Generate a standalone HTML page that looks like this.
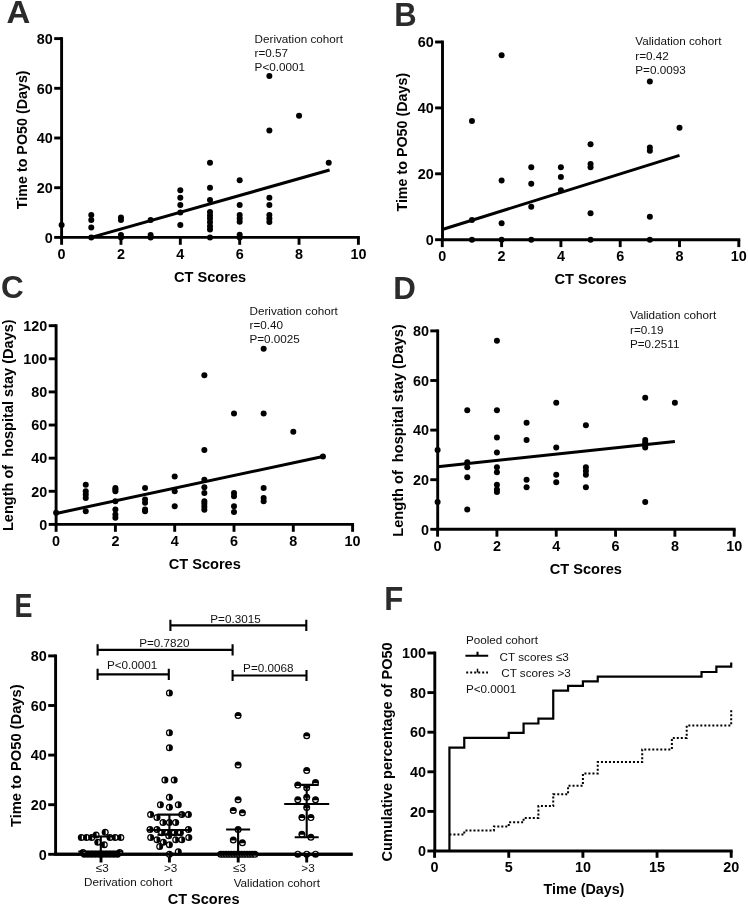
<!DOCTYPE html>
<html><head><meta charset="utf-8"><title>Figure</title>
<style>html,body{margin:0;padding:0;background:#fff;}svg{display:block;filter:grayscale(100%);}svg text{font-family:"Liberation Sans",sans-serif;}</style>
</head><body>
<svg width="748" height="906" viewBox="0 0 748 906">
<rect width="748" height="906" fill="#fff"/>
<text transform="translate(6.38,23.3) scale(1.035,1)" font-weight="bold" font-size="31.83" fill="#2b2b2b">A</text>
<line x1="61.6" y1="37.15" x2="61.6" y2="237.4" stroke="#000" stroke-width="2.9"/>
<line x1="54.2" y1="237.4" x2="61.6" y2="237.4" stroke="#000" stroke-width="2.9"/>
<text transform="translate(52.8,242.65) scale(0.97,1)" font-weight="bold" font-size="14.85" text-anchor="end">0</text>
<line x1="54.2" y1="187.7" x2="61.6" y2="187.7" stroke="#000" stroke-width="2.9"/>
<text transform="translate(52.8,192.95) scale(0.97,1)" font-weight="bold" font-size="14.85" text-anchor="end">20</text>
<line x1="54.2" y1="138" x2="61.6" y2="138" stroke="#000" stroke-width="2.9"/>
<text transform="translate(52.8,143.25) scale(0.97,1)" font-weight="bold" font-size="14.85" text-anchor="end">40</text>
<line x1="54.2" y1="88.3" x2="61.6" y2="88.3" stroke="#000" stroke-width="2.9"/>
<text transform="translate(52.8,93.55) scale(0.97,1)" font-weight="bold" font-size="14.85" text-anchor="end">60</text>
<line x1="54.2" y1="38.6" x2="61.6" y2="38.6" stroke="#000" stroke-width="2.9"/>
<text transform="translate(52.8,43.85) scale(0.97,1)" font-weight="bold" font-size="14.85" text-anchor="end">80</text>
<line x1="60.15" y1="237.4" x2="359.85" y2="237.4" stroke="#000" stroke-width="2.9"/>
<line x1="61.6" y1="237.4" x2="61.6" y2="244.8" stroke="#000" stroke-width="2.9"/>
<text transform="translate(61.6,259) scale(0.97,1)" font-weight="bold" font-size="14.85" text-anchor="middle">0</text>
<line x1="120.96" y1="237.4" x2="120.96" y2="244.8" stroke="#000" stroke-width="2.9"/>
<text transform="translate(120.96,259) scale(0.97,1)" font-weight="bold" font-size="14.85" text-anchor="middle">2</text>
<line x1="180.32" y1="237.4" x2="180.32" y2="244.8" stroke="#000" stroke-width="2.9"/>
<text transform="translate(180.32,259) scale(0.97,1)" font-weight="bold" font-size="14.85" text-anchor="middle">4</text>
<line x1="239.68" y1="237.4" x2="239.68" y2="244.8" stroke="#000" stroke-width="2.9"/>
<text transform="translate(239.68,259) scale(0.97,1)" font-weight="bold" font-size="14.85" text-anchor="middle">6</text>
<line x1="299.04" y1="237.4" x2="299.04" y2="244.8" stroke="#000" stroke-width="2.9"/>
<text transform="translate(299.04,259) scale(0.97,1)" font-weight="bold" font-size="14.85" text-anchor="middle">8</text>
<line x1="358.4" y1="237.4" x2="358.4" y2="244.8" stroke="#000" stroke-width="2.9"/>
<text transform="translate(358.4,259) scale(0.97,1)" font-weight="bold" font-size="14.85" text-anchor="middle">10</text>
<text transform="translate(27.2,139.8) rotate(-90)" font-weight="bold" font-size="14.3" text-anchor="middle">Time to PO50 (Days)</text>
<text x="210.1" y="281.6" font-weight="bold" font-size="14.6" text-anchor="middle">CT Scores</text>
<text x="254.6" y="42.5"  font-size="11.7" fill="#111">Derivation cohort</text>
<text x="254.6" y="56.8"  font-size="11.7" fill="#111">r=0.57</text>
<text x="254.6" y="71.1"  font-size="11.7" fill="#111">P&lt;0.0001</text>
<circle cx="61.6" cy="224.97" r="3.0"/>
<circle cx="91.28" cy="215.03" r="3.0"/>
<circle cx="91.28" cy="220" r="3.0"/>
<circle cx="91.28" cy="227.46" r="3.0"/>
<circle cx="91.28" cy="237.4" r="3.0"/>
<circle cx="120.96" cy="217.52" r="3.0"/>
<circle cx="120.96" cy="220" r="3.0"/>
<circle cx="120.96" cy="234.91" r="3.0"/>
<circle cx="120.96" cy="237.4" r="3.0"/>
<circle cx="150.64" cy="220" r="3.0"/>
<circle cx="150.64" cy="234.91" r="3.0"/>
<circle cx="150.64" cy="237.4" r="3.0"/>
<circle cx="180.32" cy="190.19" r="3.0"/>
<circle cx="180.32" cy="197.64" r="3.0"/>
<circle cx="180.32" cy="205.09" r="3.0"/>
<circle cx="180.32" cy="212.55" r="3.0"/>
<circle cx="180.32" cy="224.97" r="3.0"/>
<circle cx="210" cy="162.85" r="3.0"/>
<circle cx="210" cy="187.7" r="3.0"/>
<circle cx="210" cy="200.12" r="3.0"/>
<circle cx="210" cy="212.05" r="3.0"/>
<circle cx="210" cy="215.53" r="3.0"/>
<circle cx="210" cy="218.51" r="3.0"/>
<circle cx="210" cy="222.24" r="3.0"/>
<circle cx="210" cy="226.22" r="3.0"/>
<circle cx="210" cy="229.45" r="3.0"/>
<circle cx="210" cy="237.4" r="3.0"/>
<circle cx="239.68" cy="180.25" r="3.0"/>
<circle cx="239.68" cy="205.09" r="3.0"/>
<circle cx="239.68" cy="215.03" r="3.0"/>
<circle cx="239.68" cy="218.51" r="3.0"/>
<circle cx="239.68" cy="221.74" r="3.0"/>
<circle cx="239.68" cy="234.67" r="3.0"/>
<circle cx="239.68" cy="237.4" r="3.0"/>
<circle cx="269.36" cy="75.88" r="3.0"/>
<circle cx="269.36" cy="130.55" r="3.0"/>
<circle cx="269.36" cy="197.64" r="3.0"/>
<circle cx="269.36" cy="205.09" r="3.0"/>
<circle cx="269.36" cy="215.03" r="3.0"/>
<circle cx="269.36" cy="218.51" r="3.0"/>
<circle cx="269.36" cy="221.99" r="3.0"/>
<circle cx="299.04" cy="115.64" r="3.0"/>
<circle cx="328.72" cy="162.85" r="3.0"/>
<line x1="91.28" y1="237.4" x2="329.61" y2="170.06" stroke="#000" stroke-width="3.0"/>
<text transform="translate(394.33,26.4) scale(0.943,1)" font-weight="bold" font-size="32.85" fill="#2b2b2b">B</text>
<line x1="442.5" y1="40.55" x2="442.5" y2="239.7" stroke="#000" stroke-width="2.9"/>
<line x1="435.1" y1="239.7" x2="442.5" y2="239.7" stroke="#000" stroke-width="2.9"/>
<text transform="translate(433.7,244.95) scale(0.97,1)" font-weight="bold" font-size="14.85" text-anchor="end">0</text>
<line x1="435.1" y1="173.8" x2="442.5" y2="173.8" stroke="#000" stroke-width="2.9"/>
<text transform="translate(433.7,179.05) scale(0.97,1)" font-weight="bold" font-size="14.85" text-anchor="end">20</text>
<line x1="435.1" y1="107.9" x2="442.5" y2="107.9" stroke="#000" stroke-width="2.9"/>
<text transform="translate(433.7,113.15) scale(0.97,1)" font-weight="bold" font-size="14.85" text-anchor="end">40</text>
<line x1="435.1" y1="42" x2="442.5" y2="42" stroke="#000" stroke-width="2.9"/>
<text transform="translate(433.7,47.25) scale(0.97,1)" font-weight="bold" font-size="14.85" text-anchor="end">60</text>
<line x1="441.05" y1="239.7" x2="740.25" y2="239.7" stroke="#000" stroke-width="2.9"/>
<line x1="442.3" y1="239.7" x2="442.3" y2="247.1" stroke="#000" stroke-width="2.9"/>
<text transform="translate(442.3,261.2) scale(0.97,1)" font-weight="bold" font-size="14.85" text-anchor="middle">0</text>
<line x1="501.6" y1="239.7" x2="501.6" y2="247.1" stroke="#000" stroke-width="2.9"/>
<text transform="translate(501.6,261.2) scale(0.97,1)" font-weight="bold" font-size="14.85" text-anchor="middle">2</text>
<line x1="560.9" y1="239.7" x2="560.9" y2="247.1" stroke="#000" stroke-width="2.9"/>
<text transform="translate(560.9,261.2) scale(0.97,1)" font-weight="bold" font-size="14.85" text-anchor="middle">4</text>
<line x1="620.2" y1="239.7" x2="620.2" y2="247.1" stroke="#000" stroke-width="2.9"/>
<text transform="translate(620.2,261.2) scale(0.97,1)" font-weight="bold" font-size="14.85" text-anchor="middle">6</text>
<line x1="679.5" y1="239.7" x2="679.5" y2="247.1" stroke="#000" stroke-width="2.9"/>
<text transform="translate(679.5,261.2) scale(0.97,1)" font-weight="bold" font-size="14.85" text-anchor="middle">8</text>
<line x1="738.8" y1="239.7" x2="738.8" y2="247.1" stroke="#000" stroke-width="2.9"/>
<text transform="translate(738.8,261.2) scale(0.97,1)" font-weight="bold" font-size="14.85" text-anchor="middle">10</text>
<text transform="translate(407.2,142.2) rotate(-90)" font-weight="bold" font-size="14.3" text-anchor="middle">Time to PO50 (Days)</text>
<text x="590.6" y="283.5" font-weight="bold" font-size="14.6" text-anchor="middle">CT Scores</text>
<text x="635.3" y="45.4"  font-size="11.7" fill="#111">Validation cohort</text>
<text x="635.3" y="59.6"  font-size="11.7" fill="#111">r=0.42</text>
<text x="635.3" y="73.8"  font-size="11.7" fill="#111">P=0.0093</text>
<circle cx="471.95" cy="121.08" r="3.0"/>
<circle cx="471.95" cy="219.93" r="3.0"/>
<circle cx="471.95" cy="239.7" r="3.0"/>
<circle cx="501.6" cy="55.18" r="3.0"/>
<circle cx="501.6" cy="180.39" r="3.0"/>
<circle cx="501.6" cy="223.22" r="3.0"/>
<circle cx="501.6" cy="239.7" r="3.0"/>
<circle cx="531.25" cy="167.21" r="3.0"/>
<circle cx="531.25" cy="183.69" r="3.0"/>
<circle cx="531.25" cy="206.75" r="3.0"/>
<circle cx="531.25" cy="239.7" r="3.0"/>
<circle cx="560.9" cy="167.21" r="3.0"/>
<circle cx="560.9" cy="177.09" r="3.0"/>
<circle cx="560.9" cy="190.27" r="3.0"/>
<circle cx="590.55" cy="144.14" r="3.0"/>
<circle cx="590.55" cy="163.91" r="3.0"/>
<circle cx="590.55" cy="167.21" r="3.0"/>
<circle cx="590.55" cy="213.34" r="3.0"/>
<circle cx="590.55" cy="239.7" r="3.0"/>
<circle cx="649.85" cy="81.54" r="3.0"/>
<circle cx="649.85" cy="147.44" r="3.0"/>
<circle cx="649.85" cy="150.73" r="3.0"/>
<circle cx="649.85" cy="216.63" r="3.0"/>
<circle cx="649.85" cy="239.7" r="3.0"/>
<circle cx="679.5" cy="127.67" r="3.0"/>
<line x1="442.3" y1="229.49" x2="679.5" y2="155.35" stroke="#000" stroke-width="3.0"/>
<text transform="translate(1.01,298.19) scale(0.991,1)" font-weight="bold" font-size="31.78" fill="#2b2b2b">C</text>
<line x1="56.1" y1="324.23" x2="56.1" y2="524.4" stroke="#000" stroke-width="2.9"/>
<line x1="48.7" y1="524.4" x2="56.1" y2="524.4" stroke="#000" stroke-width="2.9"/>
<text transform="translate(47.3,529.65) scale(0.97,1)" font-weight="bold" font-size="14.85" text-anchor="end">0</text>
<line x1="48.7" y1="491.28" x2="56.1" y2="491.28" stroke="#000" stroke-width="2.9"/>
<text transform="translate(47.3,496.53) scale(0.97,1)" font-weight="bold" font-size="14.85" text-anchor="end">20</text>
<line x1="48.7" y1="458.16" x2="56.1" y2="458.16" stroke="#000" stroke-width="2.9"/>
<text transform="translate(47.3,463.41) scale(0.97,1)" font-weight="bold" font-size="14.85" text-anchor="end">40</text>
<line x1="48.7" y1="425.04" x2="56.1" y2="425.04" stroke="#000" stroke-width="2.9"/>
<text transform="translate(47.3,430.29) scale(0.97,1)" font-weight="bold" font-size="14.85" text-anchor="end">60</text>
<line x1="48.7" y1="391.92" x2="56.1" y2="391.92" stroke="#000" stroke-width="2.9"/>
<text transform="translate(47.3,397.17) scale(0.97,1)" font-weight="bold" font-size="14.85" text-anchor="end">80</text>
<line x1="48.7" y1="358.8" x2="56.1" y2="358.8" stroke="#000" stroke-width="2.9"/>
<text transform="translate(47.3,364.05) scale(0.97,1)" font-weight="bold" font-size="14.85" text-anchor="end">100</text>
<line x1="48.7" y1="325.68" x2="56.1" y2="325.68" stroke="#000" stroke-width="2.9"/>
<text transform="translate(47.3,330.93) scale(0.97,1)" font-weight="bold" font-size="14.85" text-anchor="end">120</text>
<line x1="54.65" y1="524.4" x2="354.05" y2="524.4" stroke="#000" stroke-width="2.9"/>
<line x1="56.1" y1="524.4" x2="56.1" y2="531.8" stroke="#000" stroke-width="2.9"/>
<text transform="translate(56.1,546.3) scale(0.97,1)" font-weight="bold" font-size="14.85" text-anchor="middle">0</text>
<line x1="115.4" y1="524.4" x2="115.4" y2="531.8" stroke="#000" stroke-width="2.9"/>
<text transform="translate(115.4,546.3) scale(0.97,1)" font-weight="bold" font-size="14.85" text-anchor="middle">2</text>
<line x1="174.7" y1="524.4" x2="174.7" y2="531.8" stroke="#000" stroke-width="2.9"/>
<text transform="translate(174.7,546.3) scale(0.97,1)" font-weight="bold" font-size="14.85" text-anchor="middle">4</text>
<line x1="234" y1="524.4" x2="234" y2="531.8" stroke="#000" stroke-width="2.9"/>
<text transform="translate(234,546.3) scale(0.97,1)" font-weight="bold" font-size="14.85" text-anchor="middle">6</text>
<line x1="293.3" y1="524.4" x2="293.3" y2="531.8" stroke="#000" stroke-width="2.9"/>
<text transform="translate(293.3,546.3) scale(0.97,1)" font-weight="bold" font-size="14.85" text-anchor="middle">8</text>
<line x1="352.6" y1="524.4" x2="352.6" y2="531.8" stroke="#000" stroke-width="2.9"/>
<text transform="translate(352.6,546.3) scale(0.97,1)" font-weight="bold" font-size="14.85" text-anchor="middle">10</text>
<text transform="translate(12.8,425.2) rotate(-90)" font-weight="bold" font-size="14.55" text-anchor="middle">Length of&#160; hospital stay (Days)</text>
<text x="204.75" y="568.5" font-weight="bold" font-size="14.6" text-anchor="middle">CT Scores</text>
<text x="249.5" y="314.8"  font-size="11.7" fill="#111">Derivation cohort</text>
<text x="249.5" y="328.9"  font-size="11.7" fill="#111">r=0.40</text>
<text x="249.5" y="343"  font-size="11.7" fill="#111">P=0.0025</text>
<circle cx="56.1" cy="512.81" r="3.0"/>
<circle cx="85.75" cy="484.66" r="3.0"/>
<circle cx="85.75" cy="491.28" r="3.0"/>
<circle cx="85.75" cy="494.59" r="3.0"/>
<circle cx="85.75" cy="497.9" r="3.0"/>
<circle cx="85.75" cy="511.15" r="3.0"/>
<circle cx="115.4" cy="487.97" r="3.0"/>
<circle cx="115.4" cy="489.62" r="3.0"/>
<circle cx="115.4" cy="491.28" r="3.0"/>
<circle cx="115.4" cy="501.22" r="3.0"/>
<circle cx="115.4" cy="509.5" r="3.0"/>
<circle cx="115.4" cy="514.46" r="3.0"/>
<circle cx="115.4" cy="517.78" r="3.0"/>
<circle cx="145.05" cy="487.97" r="3.0"/>
<circle cx="145.05" cy="499.56" r="3.0"/>
<circle cx="145.05" cy="502.87" r="3.0"/>
<circle cx="145.05" cy="509.5" r="3.0"/>
<circle cx="145.05" cy="511.15" r="3.0"/>
<circle cx="174.7" cy="476.38" r="3.0"/>
<circle cx="174.7" cy="491.28" r="3.0"/>
<circle cx="174.7" cy="506.18" r="3.0"/>
<circle cx="204.35" cy="375.36" r="3.0"/>
<circle cx="204.35" cy="449.88" r="3.0"/>
<circle cx="204.35" cy="479.69" r="3.0"/>
<circle cx="204.35" cy="487.14" r="3.0"/>
<circle cx="204.35" cy="492.94" r="3.0"/>
<circle cx="204.35" cy="501.22" r="3.0"/>
<circle cx="204.35" cy="503.87" r="3.0"/>
<circle cx="204.35" cy="506.68" r="3.0"/>
<circle cx="204.35" cy="509.83" r="3.0"/>
<circle cx="234" cy="413.45" r="3.0"/>
<circle cx="234" cy="492.94" r="3.0"/>
<circle cx="234" cy="496.25" r="3.0"/>
<circle cx="234" cy="506.18" r="3.0"/>
<circle cx="234" cy="511.98" r="3.0"/>
<circle cx="263.65" cy="348.86" r="3.0"/>
<circle cx="263.65" cy="413.45" r="3.0"/>
<circle cx="263.65" cy="487.97" r="3.0"/>
<circle cx="263.65" cy="497.9" r="3.0"/>
<circle cx="263.65" cy="501.22" r="3.0"/>
<circle cx="293.3" cy="431.66" r="3.0"/>
<circle cx="322.95" cy="456.5" r="3.0"/>
<line x1="56.1" y1="513.47" x2="322.95" y2="456.5" stroke="#000" stroke-width="3.0"/>
<text transform="translate(393.21,298.5) scale(0.993,1)" font-weight="bold" font-size="31.54" fill="#2b2b2b">D</text>
<line x1="437.7" y1="329.45" x2="437.7" y2="529.3" stroke="#000" stroke-width="2.9"/>
<line x1="430.3" y1="529.3" x2="437.7" y2="529.3" stroke="#000" stroke-width="2.9"/>
<text transform="translate(428.9,534.55) scale(0.97,1)" font-weight="bold" font-size="14.85" text-anchor="end">0</text>
<line x1="430.3" y1="479.7" x2="437.7" y2="479.7" stroke="#000" stroke-width="2.9"/>
<text transform="translate(428.9,484.95) scale(0.97,1)" font-weight="bold" font-size="14.85" text-anchor="end">20</text>
<line x1="430.3" y1="430.1" x2="437.7" y2="430.1" stroke="#000" stroke-width="2.9"/>
<text transform="translate(428.9,435.35) scale(0.97,1)" font-weight="bold" font-size="14.85" text-anchor="end">40</text>
<line x1="430.3" y1="380.5" x2="437.7" y2="380.5" stroke="#000" stroke-width="2.9"/>
<text transform="translate(428.9,385.75) scale(0.97,1)" font-weight="bold" font-size="14.85" text-anchor="end">60</text>
<line x1="430.3" y1="330.9" x2="437.7" y2="330.9" stroke="#000" stroke-width="2.9"/>
<text transform="translate(428.9,336.15) scale(0.97,1)" font-weight="bold" font-size="14.85" text-anchor="end">80</text>
<line x1="436.25" y1="529.3" x2="735.65" y2="529.3" stroke="#000" stroke-width="2.9"/>
<line x1="437.6" y1="529.3" x2="437.6" y2="536.7" stroke="#000" stroke-width="2.9"/>
<text transform="translate(437.6,550.8) scale(0.97,1)" font-weight="bold" font-size="14.85" text-anchor="middle">0</text>
<line x1="496.92" y1="529.3" x2="496.92" y2="536.7" stroke="#000" stroke-width="2.9"/>
<text transform="translate(496.92,550.8) scale(0.97,1)" font-weight="bold" font-size="14.85" text-anchor="middle">2</text>
<line x1="556.24" y1="529.3" x2="556.24" y2="536.7" stroke="#000" stroke-width="2.9"/>
<text transform="translate(556.24,550.8) scale(0.97,1)" font-weight="bold" font-size="14.85" text-anchor="middle">4</text>
<line x1="615.56" y1="529.3" x2="615.56" y2="536.7" stroke="#000" stroke-width="2.9"/>
<text transform="translate(615.56,550.8) scale(0.97,1)" font-weight="bold" font-size="14.85" text-anchor="middle">6</text>
<line x1="674.88" y1="529.3" x2="674.88" y2="536.7" stroke="#000" stroke-width="2.9"/>
<text transform="translate(674.88,550.8) scale(0.97,1)" font-weight="bold" font-size="14.85" text-anchor="middle">8</text>
<line x1="734.2" y1="529.3" x2="734.2" y2="536.7" stroke="#000" stroke-width="2.9"/>
<text transform="translate(734.2,550.8) scale(0.97,1)" font-weight="bold" font-size="14.85" text-anchor="middle">10</text>
<text transform="translate(402.8,430.5) rotate(-90)" font-weight="bold" font-size="14.6" text-anchor="middle">Length of&#160; hospital stay (Days)</text>
<text x="585.8" y="573.6" font-weight="bold" font-size="14.6" text-anchor="middle">CT Scores</text>
<text x="630" y="319.4"  font-size="11.7" fill="#111">Validation cohort</text>
<text x="630" y="333.7"  font-size="11.7" fill="#111">r=0.19</text>
<text x="630" y="348"  font-size="11.7" fill="#111">P=0.2511</text>
<circle cx="437.6" cy="449.94" r="3.0"/>
<circle cx="437.6" cy="502.02" r="3.0"/>
<circle cx="467.26" cy="410.26" r="3.0"/>
<circle cx="467.26" cy="462.34" r="3.0"/>
<circle cx="467.26" cy="467.3" r="3.0"/>
<circle cx="467.26" cy="477.22" r="3.0"/>
<circle cx="467.26" cy="509.46" r="3.0"/>
<circle cx="496.92" cy="340.82" r="3.0"/>
<circle cx="496.92" cy="410.26" r="3.0"/>
<circle cx="496.92" cy="437.54" r="3.0"/>
<circle cx="496.92" cy="452.42" r="3.0"/>
<circle cx="496.92" cy="467.3" r="3.0"/>
<circle cx="496.92" cy="472.26" r="3.0"/>
<circle cx="496.92" cy="484.66" r="3.0"/>
<circle cx="496.92" cy="489.62" r="3.0"/>
<circle cx="496.92" cy="492.1" r="3.0"/>
<circle cx="526.58" cy="422.66" r="3.0"/>
<circle cx="526.58" cy="440.02" r="3.0"/>
<circle cx="526.58" cy="479.7" r="3.0"/>
<circle cx="526.58" cy="487.14" r="3.0"/>
<circle cx="556.24" cy="402.82" r="3.0"/>
<circle cx="556.24" cy="447.46" r="3.0"/>
<circle cx="556.24" cy="474.74" r="3.0"/>
<circle cx="556.24" cy="482.18" r="3.0"/>
<circle cx="585.9" cy="425.14" r="3.0"/>
<circle cx="585.9" cy="467.3" r="3.0"/>
<circle cx="585.9" cy="471.02" r="3.0"/>
<circle cx="585.9" cy="474.74" r="3.0"/>
<circle cx="585.9" cy="487.14" r="3.0"/>
<circle cx="645.22" cy="397.86" r="3.0"/>
<circle cx="645.22" cy="440.02" r="3.0"/>
<circle cx="645.22" cy="442.5" r="3.0"/>
<circle cx="645.22" cy="444.98" r="3.0"/>
<circle cx="645.22" cy="447.46" r="3.0"/>
<circle cx="645.22" cy="502.02" r="3.0"/>
<circle cx="674.88" cy="402.82" r="3.0"/>
<line x1="437.6" y1="466.8" x2="674.88" y2="441.51" stroke="#000" stroke-width="3.0"/>
<text transform="translate(14.6,617.3) scale(0.805,1)" font-weight="bold" font-size="33.43" fill="#2b2b2b">E</text>
<line x1="55.6" y1="654.45" x2="55.6" y2="854.3" stroke="#000" stroke-width="2.9"/>
<line x1="48.2" y1="854.3" x2="55.6" y2="854.3" stroke="#000" stroke-width="2.9"/>
<text transform="translate(46.8,859.55) scale(0.97,1)" font-weight="bold" font-size="14.85" text-anchor="end">0</text>
<line x1="48.2" y1="804.7" x2="55.6" y2="804.7" stroke="#000" stroke-width="2.9"/>
<text transform="translate(46.8,809.95) scale(0.97,1)" font-weight="bold" font-size="14.85" text-anchor="end">20</text>
<line x1="48.2" y1="755.1" x2="55.6" y2="755.1" stroke="#000" stroke-width="2.9"/>
<text transform="translate(46.8,760.35) scale(0.97,1)" font-weight="bold" font-size="14.85" text-anchor="end">40</text>
<line x1="48.2" y1="705.5" x2="55.6" y2="705.5" stroke="#000" stroke-width="2.9"/>
<text transform="translate(46.8,710.75) scale(0.97,1)" font-weight="bold" font-size="14.85" text-anchor="end">60</text>
<line x1="48.2" y1="655.9" x2="55.6" y2="655.9" stroke="#000" stroke-width="2.9"/>
<text transform="translate(46.8,661.15) scale(0.97,1)" font-weight="bold" font-size="14.85" text-anchor="end">80</text>
<line x1="54.15" y1="854.3" x2="352.6" y2="854.3" stroke="#000" stroke-width="2.9"/>
<line x1="101" y1="854.3" x2="101" y2="862.5" stroke="#000" stroke-width="2.9"/>
<line x1="169.4" y1="854.3" x2="169.4" y2="862.5" stroke="#000" stroke-width="2.9"/>
<line x1="238.2" y1="854.3" x2="238.2" y2="862.5" stroke="#000" stroke-width="2.9"/>
<line x1="306.7" y1="854.3" x2="306.7" y2="862.5" stroke="#000" stroke-width="2.9"/>
<text transform="translate(20.8,755.7) rotate(-90)" font-weight="bold" font-size="14.7" text-anchor="middle">Time to PO50 (Days)</text>
<text x="203.6" y="904" font-weight="bold" font-size="14.5" text-anchor="middle">CT Scores</text>
<text x="102.3" y="872.4"  font-size="11.7" text-anchor="middle" fill="#111">≤3</text>
<text x="170.7" y="872.4"  font-size="11.7" text-anchor="middle" fill="#111">&gt;3</text>
<text x="239.5" y="872.4"  font-size="11.7" text-anchor="middle" fill="#111">≤3</text>
<text x="308" y="872.4"  font-size="11.7" text-anchor="middle" fill="#111">&gt;3</text>
<text x="84.1" y="885.7"  font-size="11.7" fill="#111">Derivation cohort</text>
<text x="233.7" y="887.1"  font-size="11.7" fill="#111">Validation cohort</text>
<path d="M170.4 619.8V631M170.4 625.4H306.3M306.3 619.8V631" stroke="#000" stroke-width="2.1" fill="none"/>
<path d="M97.6 644.3V655.5M97.6 649.9H232.6M232.6 644.3V655.5" stroke="#000" stroke-width="2.1" fill="none"/>
<path d="M97.6 668.8V680M97.6 674.4H168.8M168.8 668.8V680" stroke="#000" stroke-width="2.1" fill="none"/>
<path d="M232.6 669.9V681.1M232.6 675.5H306.5M306.5 669.9V681.1" stroke="#000" stroke-width="2.1" fill="none"/>
<text x="210.3" y="622.5"  font-size="11.7" fill="#111">P=0.3015</text>
<text x="139.2" y="646.8"  font-size="11.7" fill="#111">P=0.7820</text>
<text x="106.9" y="668.7"  font-size="11.7" fill="#111">P&lt;0.0001</text>
<text x="243.1" y="671.8"  font-size="11.7" fill="#111">P=0.0068</text>
<circle cx="84.3" cy="854.3" r="3.5"/>
<circle cx="87.98" cy="854.3" r="3.5"/>
<circle cx="91.66" cy="854.3" r="3.5"/>
<circle cx="95.34" cy="854.3" r="3.5"/>
<circle cx="99.02" cy="854.3" r="3.5"/>
<circle cx="102.7" cy="854.3" r="3.5"/>
<circle cx="106.38" cy="854.3" r="3.5"/>
<circle cx="110.06" cy="854.3" r="3.5"/>
<circle cx="113.74" cy="854.3" r="3.5"/>
<circle cx="117.42" cy="854.3" r="3.5"/>
<circle cx="83" cy="852.56" r="3.5"/><path d="M83.5 850.32A2.3 2.3 0 0 1 83.5 854.81Z" fill="#fff"/>
<circle cx="119.7" cy="852.56" r="3.5"/><path d="M120.2 850.32A2.3 2.3 0 0 1 120.2 854.81Z" fill="#fff"/>
<circle cx="97.8" cy="842.15" r="3.5"/><path d="M98.3 839.9A2.3 2.3 0 0 1 98.3 844.39Z" fill="#fff"/>
<circle cx="104.3" cy="844.63" r="3.5"/><path d="M104.8 842.38A2.3 2.3 0 0 1 104.8 846.87Z" fill="#fff"/>
<circle cx="81.3" cy="837.44" r="3.5"/><path d="M81.8 835.19A2.3 2.3 0 0 1 81.8 839.68Z" fill="#fff"/>
<circle cx="86.5" cy="837.44" r="3.5"/><path d="M87 835.19A2.3 2.3 0 0 1 87 839.68Z" fill="#fff"/>
<circle cx="91.7" cy="837.44" r="3.5"/><path d="M92.2 835.19A2.3 2.3 0 0 1 92.2 839.68Z" fill="#fff"/>
<circle cx="110" cy="837.44" r="3.5"/><path d="M110.5 835.19A2.3 2.3 0 0 1 110.5 839.68Z" fill="#fff"/>
<circle cx="115.2" cy="837.44" r="3.5"/><path d="M115.7 835.19A2.3 2.3 0 0 1 115.7 839.68Z" fill="#fff"/>
<circle cx="120.8" cy="837.44" r="3.5"/><path d="M121.3 835.19A2.3 2.3 0 0 1 121.3 839.68Z" fill="#fff"/>
<circle cx="96.1" cy="834.96" r="3.5"/><path d="M96.6 832.71A2.3 2.3 0 0 1 96.6 837.2Z" fill="#fff"/>
<circle cx="105.2" cy="832.23" r="3.5"/><path d="M105.7 829.98A2.3 2.3 0 0 1 105.7 834.47Z" fill="#fff"/>
<circle cx="169.4" cy="693.1" r="3.5"/><path d="M168.9 695.34A2.3 2.3 0 0 1 168.9 690.86Z" fill="#fff"/>
<circle cx="169.4" cy="732.78" r="3.5"/><path d="M168.9 735.02A2.3 2.3 0 0 1 168.9 730.54Z" fill="#fff"/>
<circle cx="169.4" cy="747.66" r="3.5"/><path d="M168.9 749.9A2.3 2.3 0 0 1 168.9 745.42Z" fill="#fff"/>
<circle cx="164.9" cy="779.9" r="3.5"/><path d="M164.4 782.14A2.3 2.3 0 0 1 164.4 777.66Z" fill="#fff"/>
<circle cx="174.2" cy="779.9" r="3.5"/><path d="M173.7 782.14A2.3 2.3 0 0 1 173.7 777.66Z" fill="#fff"/>
<circle cx="169.4" cy="797.26" r="3.5"/><path d="M168.9 799.5A2.3 2.3 0 0 1 168.9 795.02Z" fill="#fff"/>
<circle cx="160.4" cy="804.7" r="3.5"/><path d="M159.9 806.94A2.3 2.3 0 0 1 159.9 802.46Z" fill="#fff"/>
<circle cx="178.3" cy="804.7" r="3.5"/><path d="M177.8 806.94A2.3 2.3 0 0 1 177.8 802.46Z" fill="#fff"/>
<circle cx="169.4" cy="807.18" r="3.5"/><path d="M168.9 809.42A2.3 2.3 0 0 1 168.9 804.94Z" fill="#fff"/>
<circle cx="150.6" cy="814.62" r="3.5"/><path d="M150.1 816.86A2.3 2.3 0 0 1 150.1 812.38Z" fill="#fff"/>
<circle cx="181.8" cy="814.62" r="3.5"/><path d="M181.3 816.86A2.3 2.3 0 0 1 181.3 812.38Z" fill="#fff"/>
<circle cx="188.4" cy="814.62" r="3.5"/><path d="M187.9 816.86A2.3 2.3 0 0 1 187.9 812.38Z" fill="#fff"/>
<circle cx="157" cy="817.6" r="3.5"/><path d="M156.5 819.84A2.3 2.3 0 0 1 156.5 815.35Z" fill="#fff"/>
<circle cx="163" cy="822.56" r="3.5"/><path d="M162.5 824.8A2.3 2.3 0 0 1 162.5 820.31Z" fill="#fff"/>
<circle cx="169.4" cy="822.56" r="3.5"/><path d="M168.9 824.8A2.3 2.3 0 0 1 168.9 820.31Z" fill="#fff"/>
<circle cx="175.7" cy="822.56" r="3.5"/><path d="M175.2 824.8A2.3 2.3 0 0 1 175.2 820.31Z" fill="#fff"/>
<circle cx="150" cy="829.5" r="3.5"/><path d="M149.5 831.74A2.3 2.3 0 0 1 149.5 827.26Z" fill="#fff"/>
<circle cx="157" cy="829.5" r="3.5"/><path d="M156.5 831.74A2.3 2.3 0 0 1 156.5 827.26Z" fill="#fff"/>
<circle cx="188.4" cy="829.5" r="3.5"/><path d="M187.9 831.74A2.3 2.3 0 0 1 187.9 827.26Z" fill="#fff"/>
<circle cx="161.7" cy="832.72" r="3.5"/><path d="M161.2 834.97A2.3 2.3 0 0 1 161.2 830.48Z" fill="#fff"/>
<circle cx="167.7" cy="832.72" r="3.5"/><path d="M167.2 834.97A2.3 2.3 0 0 1 167.2 830.48Z" fill="#fff"/>
<circle cx="174.4" cy="832.72" r="3.5"/><path d="M173.9 834.97A2.3 2.3 0 0 1 173.9 830.48Z" fill="#fff"/>
<circle cx="180.4" cy="832.72" r="3.5"/><path d="M179.9 834.97A2.3 2.3 0 0 1 179.9 830.48Z" fill="#fff"/>
<circle cx="168.7" cy="835.7" r="3.5"/><path d="M168.2 837.94A2.3 2.3 0 0 1 168.2 833.46Z" fill="#fff"/>
<circle cx="150.7" cy="837.44" r="3.5"/><path d="M150.2 839.68A2.3 2.3 0 0 1 150.2 835.19Z" fill="#fff"/>
<circle cx="188.8" cy="837.44" r="3.5"/><path d="M188.3 839.68A2.3 2.3 0 0 1 188.3 835.19Z" fill="#fff"/>
<circle cx="157" cy="839.67" r="3.5"/><path d="M156.5 841.91A2.3 2.3 0 0 1 156.5 837.42Z" fill="#fff"/>
<circle cx="175.7" cy="839.67" r="3.5"/><path d="M175.2 841.91A2.3 2.3 0 0 1 175.2 837.42Z" fill="#fff"/>
<circle cx="181.8" cy="839.67" r="3.5"/><path d="M181.3 841.91A2.3 2.3 0 0 1 181.3 837.42Z" fill="#fff"/>
<circle cx="163.4" cy="842.15" r="3.5"/><path d="M162.9 844.39A2.3 2.3 0 0 1 162.9 839.9Z" fill="#fff"/>
<circle cx="169.4" cy="844.63" r="3.5"/><path d="M168.9 846.87A2.3 2.3 0 0 1 168.9 842.38Z" fill="#fff"/>
<circle cx="159.7" cy="846.61" r="3.5"/><path d="M159.2 848.86A2.3 2.3 0 0 1 159.2 844.37Z" fill="#fff"/>
<circle cx="178.3" cy="851.82" r="3.5"/><path d="M177.8 854.06A2.3 2.3 0 0 1 177.8 849.58Z" fill="#fff"/>
<circle cx="169.4" cy="854.3" r="3.5"/><path d="M168.9 856.54A2.3 2.3 0 0 1 168.9 852.06Z" fill="#fff"/>
<circle cx="220.7" cy="854.3" r="3.5"/><path d="M222.94 854.8A2.3 2.3 0 0 1 218.46 854.8Z" fill="#fff"/>
<circle cx="223.33" cy="854.3" r="3.5"/><path d="M225.57 854.8A2.3 2.3 0 0 1 221.09 854.8Z" fill="#fff"/>
<circle cx="225.96" cy="854.3" r="3.5"/><path d="M228.2 854.8A2.3 2.3 0 0 1 223.72 854.8Z" fill="#fff"/>
<circle cx="228.59" cy="854.3" r="3.5"/><path d="M230.83 854.8A2.3 2.3 0 0 1 226.35 854.8Z" fill="#fff"/>
<circle cx="231.22" cy="854.3" r="3.5"/><path d="M233.46 854.8A2.3 2.3 0 0 1 228.98 854.8Z" fill="#fff"/>
<circle cx="233.85" cy="854.3" r="3.5"/><path d="M236.09 854.8A2.3 2.3 0 0 1 231.61 854.8Z" fill="#fff"/>
<circle cx="236.48" cy="854.3" r="3.5"/><path d="M238.72 854.8A2.3 2.3 0 0 1 234.24 854.8Z" fill="#fff"/>
<circle cx="239.11" cy="854.3" r="3.5"/><path d="M241.35 854.8A2.3 2.3 0 0 1 236.87 854.8Z" fill="#fff"/>
<circle cx="241.74" cy="854.3" r="3.5"/><path d="M243.98 854.8A2.3 2.3 0 0 1 239.5 854.8Z" fill="#fff"/>
<circle cx="244.37" cy="854.3" r="3.5"/><path d="M246.61 854.8A2.3 2.3 0 0 1 242.13 854.8Z" fill="#fff"/>
<circle cx="247" cy="854.3" r="3.5"/><path d="M249.24 854.8A2.3 2.3 0 0 1 244.76 854.8Z" fill="#fff"/>
<circle cx="249.63" cy="854.3" r="3.5"/><path d="M251.87 854.8A2.3 2.3 0 0 1 247.39 854.8Z" fill="#fff"/>
<circle cx="252.26" cy="854.3" r="3.5"/><path d="M254.5 854.8A2.3 2.3 0 0 1 250.02 854.8Z" fill="#fff"/>
<circle cx="254.89" cy="854.3" r="3.5"/><path d="M257.13 854.8A2.3 2.3 0 0 1 252.65 854.8Z" fill="#fff"/>
<circle cx="238.1" cy="715.42" r="3.5"/><path d="M240.34 715.92A2.3 2.3 0 0 1 235.86 715.92Z" fill="#fff"/>
<circle cx="238.1" cy="765.02" r="3.5"/><path d="M240.34 765.52A2.3 2.3 0 0 1 235.86 765.52Z" fill="#fff"/>
<circle cx="238.1" cy="799.74" r="3.5"/><path d="M240.34 800.24A2.3 2.3 0 0 1 235.86 800.24Z" fill="#fff"/>
<circle cx="233.3" cy="810.4" r="3.5"/><path d="M235.54 810.9A2.3 2.3 0 0 1 231.06 810.9Z" fill="#fff"/>
<circle cx="242.4" cy="812.64" r="3.5"/><path d="M244.64 813.14A2.3 2.3 0 0 1 240.16 813.14Z" fill="#fff"/>
<circle cx="238.1" cy="829.5" r="3.5"/><path d="M240.34 830A2.3 2.3 0 0 1 235.86 830Z" fill="#fff"/>
<circle cx="233.3" cy="839.92" r="3.5"/><path d="M235.54 840.42A2.3 2.3 0 0 1 231.06 840.42Z" fill="#fff"/>
<circle cx="242.4" cy="842.64" r="3.5"/><path d="M244.64 843.14A2.3 2.3 0 0 1 240.16 843.14Z" fill="#fff"/>
<circle cx="306.7" cy="735.76" r="3.5"/><path d="M308.94 736.26A2.3 2.3 0 0 1 304.46 736.26Z" fill="#fff"/>
<circle cx="306.7" cy="770.48" r="3.5"/><path d="M308.94 770.98A2.3 2.3 0 0 1 304.46 770.98Z" fill="#fff"/>
<circle cx="297.8" cy="785.11" r="3.5"/><path d="M300.04 785.61A2.3 2.3 0 0 1 295.56 785.61Z" fill="#fff"/>
<circle cx="315.5" cy="782.38" r="3.5"/><path d="M317.74 782.88A2.3 2.3 0 0 1 313.26 782.88Z" fill="#fff"/>
<circle cx="306.7" cy="787.84" r="3.5"/><path d="M308.94 788.34A2.3 2.3 0 0 1 304.46 788.34Z" fill="#fff"/>
<circle cx="306.7" cy="797.26" r="3.5"/><path d="M308.94 797.76A2.3 2.3 0 0 1 304.46 797.76Z" fill="#fff"/>
<circle cx="297.8" cy="799.74" r="3.5"/><path d="M300.04 800.24A2.3 2.3 0 0 1 295.56 800.24Z" fill="#fff"/>
<circle cx="315.5" cy="799.74" r="3.5"/><path d="M317.74 800.24A2.3 2.3 0 0 1 313.26 800.24Z" fill="#fff"/>
<circle cx="306.7" cy="807.43" r="3.5"/><path d="M308.94 807.93A2.3 2.3 0 0 1 304.46 807.93Z" fill="#fff"/>
<circle cx="301.9" cy="817.6" r="3.5"/><path d="M304.14 818.1A2.3 2.3 0 0 1 299.66 818.1Z" fill="#fff"/>
<circle cx="310.9" cy="817.6" r="3.5"/><path d="M313.14 818.1A2.3 2.3 0 0 1 308.66 818.1Z" fill="#fff"/>
<circle cx="301.9" cy="834.21" r="3.5"/><path d="M304.14 834.71A2.3 2.3 0 0 1 299.66 834.71Z" fill="#fff"/>
<circle cx="310.9" cy="837.19" r="3.5"/><path d="M313.14 837.69A2.3 2.3 0 0 1 308.66 837.69Z" fill="#fff"/>
<line x1="55.6" y1="854.3" x2="352.6" y2="854.3" stroke="#000" stroke-width="2.9"/>
<circle cx="297.8" cy="854.2" r="3.5"/><ellipse cx="297.8" cy="852.3" rx="1.5" ry="0.55" fill="#fff"/>
<circle cx="306.7" cy="854.2" r="3.5"/><ellipse cx="306.7" cy="852.3" rx="1.5" ry="0.55" fill="#fff"/>
<circle cx="315.5" cy="854.2" r="3.5"/><ellipse cx="315.5" cy="852.3" rx="1.5" ry="0.55" fill="#fff"/>
<path d="M100.8 836.44V854.3M88.8 836.44H112.8M88.8 854.3H112.8M78.3 851.57H123.3" stroke="#000" stroke-width="2.1" fill="none"/>
<path d="M169.4 814.62V834.71M157.4 814.62H181.4M157.4 834.71H181.4M146.9 830H191.9" stroke="#000" stroke-width="2.1" fill="none"/>
<path d="M238.1 829.5V854.3M226.1 829.5H250.1M226.1 854.3H250.1M215.6 854.3H260.6" stroke="#000" stroke-width="2.1" fill="none"/>
<path d="M306.7 784.86V837.19M294.7 784.86H318.7M294.7 837.19H318.7M284.2 803.96H329.2" stroke="#000" stroke-width="2.1" fill="none"/>
<text transform="translate(384.32,610.1) scale(0.952,1)" font-weight="bold" font-size="32.70" fill="#2b2b2b">F</text>
<line x1="434.8" y1="651.55" x2="434.8" y2="851" stroke="#000" stroke-width="2.9"/>
<line x1="427.4" y1="851" x2="434.8" y2="851" stroke="#000" stroke-width="2.9"/>
<text transform="translate(426,856.25) scale(0.97,1)" font-weight="bold" font-size="14.85" text-anchor="end">0</text>
<line x1="427.4" y1="811.4" x2="434.8" y2="811.4" stroke="#000" stroke-width="2.9"/>
<text transform="translate(426,816.65) scale(0.97,1)" font-weight="bold" font-size="14.85" text-anchor="end">20</text>
<line x1="427.4" y1="771.8" x2="434.8" y2="771.8" stroke="#000" stroke-width="2.9"/>
<text transform="translate(426,777.05) scale(0.97,1)" font-weight="bold" font-size="14.85" text-anchor="end">40</text>
<line x1="427.4" y1="732.2" x2="434.8" y2="732.2" stroke="#000" stroke-width="2.9"/>
<text transform="translate(426,737.45) scale(0.97,1)" font-weight="bold" font-size="14.85" text-anchor="end">60</text>
<line x1="427.4" y1="692.6" x2="434.8" y2="692.6" stroke="#000" stroke-width="2.9"/>
<text transform="translate(426,697.85) scale(0.97,1)" font-weight="bold" font-size="14.85" text-anchor="end">80</text>
<line x1="427.4" y1="653" x2="434.8" y2="653" stroke="#000" stroke-width="2.9"/>
<text transform="translate(426,658.25) scale(0.97,1)" font-weight="bold" font-size="14.85" text-anchor="end">100</text>
<line x1="433.35" y1="851" x2="732.65" y2="851" stroke="#000" stroke-width="2.9"/>
<line x1="434.6" y1="851" x2="434.6" y2="857.8" stroke="#000" stroke-width="2.9"/>
<text transform="translate(434.6,872.2) scale(0.97,1)" font-weight="bold" font-size="14.85" text-anchor="middle">0</text>
<line x1="508.75" y1="851" x2="508.75" y2="857.8" stroke="#000" stroke-width="2.9"/>
<text transform="translate(508.75,872.2) scale(0.97,1)" font-weight="bold" font-size="14.85" text-anchor="middle">5</text>
<line x1="582.9" y1="851" x2="582.9" y2="857.8" stroke="#000" stroke-width="2.9"/>
<text transform="translate(582.9,872.2) scale(0.97,1)" font-weight="bold" font-size="14.85" text-anchor="middle">10</text>
<line x1="657.05" y1="851" x2="657.05" y2="857.8" stroke="#000" stroke-width="2.9"/>
<text transform="translate(657.05,872.2) scale(0.97,1)" font-weight="bold" font-size="14.85" text-anchor="middle">15</text>
<line x1="731.2" y1="851" x2="731.2" y2="857.8" stroke="#000" stroke-width="2.9"/>
<text transform="translate(731.2,872.2) scale(0.97,1)" font-weight="bold" font-size="14.85" text-anchor="middle">20</text>
<text transform="translate(391.6,751.85) rotate(-90)" font-weight="bold" font-size="14.55" text-anchor="middle">Cumulative percentage of PO50</text>
<text x="584" y="894.1" font-weight="bold" font-size="14.3" text-anchor="middle">Time (Days)</text>
<text x="465.9" y="644.4"  font-size="11.7" fill="#111">Pooled cohort</text>
<text x="499.6" y="660.5"  font-size="11.7" fill="#111">CT scores ≤3</text>
<text x="501.2" y="676.5"  font-size="11.7" fill="#111">CT scores &gt;3</text>
<text x="465.9" y="693"  font-size="11.7" fill="#111">P&lt;0.0001</text>
<path d="M465.4 655.7H488.2M477.5 655.7V651.7" stroke="#000" stroke-width="2.1" fill="none"/>
<path d="M466.2 672.5H488" stroke="#000" stroke-width="2" stroke-dasharray="2 2" fill="none"/>
<path d="M477.5 672.5V668.7" stroke="#000" stroke-width="1.5" fill="none"/>
<path d="M449.43 851H449.43V747.64H464.26V737.94H508.75V732.79H523.58V723.49H538.41V718.54H553.24V690.62H568.07V685.87H582.9V681.31H597.73V676.56H701.54V672.01H716.37V666.66H731.2V662.5" stroke="#000" stroke-width="2.2" fill="none"/>
<path d="M449.43 834.57H464.26V830.61H493.92V826.45H508.75V822.29H523.58V817.93H538.41V806.05H553.24V794.37H568.07V785.66H582.9V773.58H597.73V762.1H642.22V749.43H671.88V737.94H686.71V725.47H731.2V710.02" stroke="#000" stroke-width="2" stroke-dasharray="2 2" fill="none"/>
</svg>
</body></html>
